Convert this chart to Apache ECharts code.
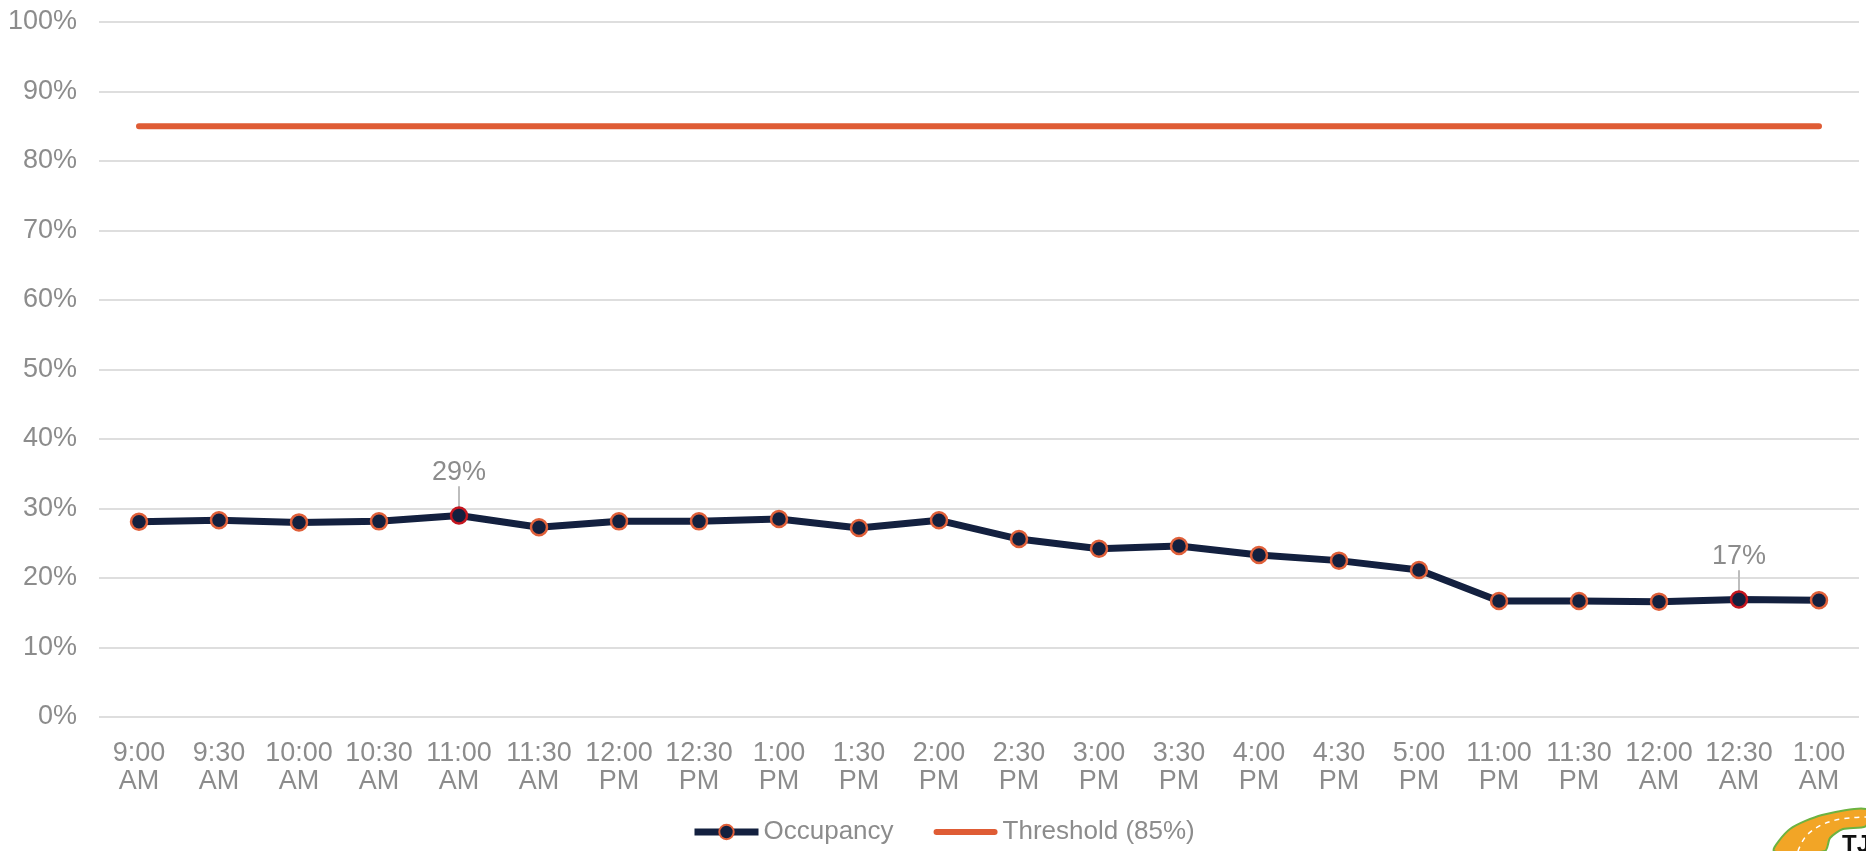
<!DOCTYPE html>
<html>
<head>
<meta charset="utf-8">
<title>Occupancy</title>
<script src="https://cdn.jsdelivr.net/npm/echarts@6/dist/echarts.min.js"></script>
<style>
  html, body { margin: 0; padding: 0; background: #ffffff; }
  #chart { width: 1866px; height: 851px; }
</style>
</head>
<body>
<div id="chart"></div>
<script>
// Half-hour time slots
const categories = [
  '9:00\nAM', '9:30\nAM', '10:00\nAM', '10:30\nAM', '11:00\nAM', '11:30\nAM',
  '12:00\nPM', '12:30\nPM', '1:00\nPM', '1:30\nPM', '2:00\nPM', '2:30\nPM',
  '3:00\nPM', '3:30\nPM', '4:00\nPM', '4:30\nPM', '5:00\nPM', '11:00\nPM',
  '11:30\nPM', '12:00\nAM', '12:30\nAM', '1:00\nAM'
];

// Occupancy share per slot
const occupancy = [
  0.281, 0.283, 0.280, 0.2815, 0.290, 0.273,
  0.2815, 0.2815, 0.285, 0.272, 0.283, 0.256,
  0.242, 0.246, 0.233, 0.225, 0.2115, 0.167,
  0.167, 0.166, 0.169, 0.168
];

// Threshold level
const thresholdValue = 0.85;
const threshold = categories.map(() => thresholdValue);

// Slots whose value is printed on the chart
const labelledSlots = [4, 20];

const yTicks = { min: 0, max: 1, interval: 0.1 };

const NAVY = '#13203f';
const ORANGE = '#df5c35';
const TEXT = '#8c8c8c';
const FONT = '"Liberation Sans", Arial, sans-serif';
const FONT_SIZE = 27;

const pct = v => Math.round(v * 100) + '%';

const occupancyData = occupancy.map((v, i) => {
  if (!labelledSlots.includes(i)) return v;
  return {
    value: v,
    itemStyle: { borderColor: '#c4161f' },
    label: { show: true }
  };
});

const chart = echarts.init(document.getElementById('chart'), null, { renderer: 'canvas' });

chart.setOption({
  animation: false,
  backgroundColor: '#ffffff',
  textStyle: { fontFamily: FONT },
  grid: { left: 99, right: 7, top: 22, bottom: 134, containLabel: false },
  legend: {
    bottom: 1,
    left: 686,
    itemWidth: 64,
    itemHeight: 18,
    itemGap: 40,
    textStyle: { color: TEXT, fontSize: 26, fontFamily: FONT },
    data: [
      { name: 'Occupancy', lineStyle: { width: 7, color: NAVY } },
      { name: 'Threshold (85%)', icon: 'path://M3,0 L61,0 A3,3 0 0 1 61,6 L3,6 A3,3 0 0 1 3,0 Z', itemStyle: { color: ORANGE } }
    ]
  },
  xAxis: {
    type: 'category',
    data: categories,
    boundaryGap: true,
    axisLine: { show: false },
    axisTick: { show: false },
    axisLabel: {
      interval: 0,
      color: TEXT,
      fontSize: FONT_SIZE,
      lineHeight: 28,
      margin: 23,
      fontFamily: FONT
    }
  },
  yAxis: {
    type: 'value',
    min: yTicks.min,
    max: yTicks.max,
    interval: yTicks.interval,
    axisLine: { show: false },
    axisTick: { show: false },
    axisLabel: {
      color: TEXT,
      fontSize: FONT_SIZE,
      margin: 22,
      fontFamily: FONT,
      formatter: pct
    },
    splitLine: { lineStyle: { color: '#dedede', width: 2 } }
  },
  series: [
    {
      name: 'Occupancy',
      type: 'line',
      data: occupancyData,
      symbol: 'circle',
      symbolSize: 16,
      z: 3,
      lineStyle: { color: NAVY, width: 7 },
      itemStyle: { color: NAVY, borderColor: '#e0603a', borderWidth: 2.5 },
      label: {
        show: false,
        position: 'top',
        distance: 6,
        color: TEXT,
        fontSize: FONT_SIZE,
        fontFamily: FONT,
        formatter: p => pct(p.value)
      },
      labelLayout: { dy: -14 },
      labelLine: { show: true, lineStyle: { color: '#bdbdbd', width: 2 } },
      emphasis: { disabled: true }
    },
    {
      name: 'Threshold (85%)',
      type: 'line',
      data: threshold,
      symbol: 'none',
      z: 2,
      lineStyle: { color: ORANGE, width: 6, cap: 'round' },
      itemStyle: { color: ORANGE },
      emphasis: { disabled: true }
    }
  ],
  graphic: [
    {
      type: 'polygon',
      silent: true,
      shape: {
        points: [[1774, 851], [1790, 829], [1822, 815], [1866, 809],
                 [1866, 826], [1843, 829], [1830, 838], [1825, 851]],
        smooth: 0.25
      },
      style: { fill: '#f2a526', stroke: '#6cb341', lineWidth: 2 }
    },
    {
      type: 'polyline',
      silent: true,
      shape: {
        points: [[1798, 851], [1808, 834], [1832, 821], [1866, 817]],
        smooth: 0.4
      },
      style: { fill: null, stroke: '#ffffff', lineWidth: 1.5, lineDash: [5, 5] }
    },
    {
      type: 'text',
      silent: true,
      style: {
        x: 1842,
        y: 833,
        text: 'TJ',
        fill: '#111111',
        font: 'bold 24px ' + FONT
      }
    }
  ]
});
</script>
</body>
</html>
